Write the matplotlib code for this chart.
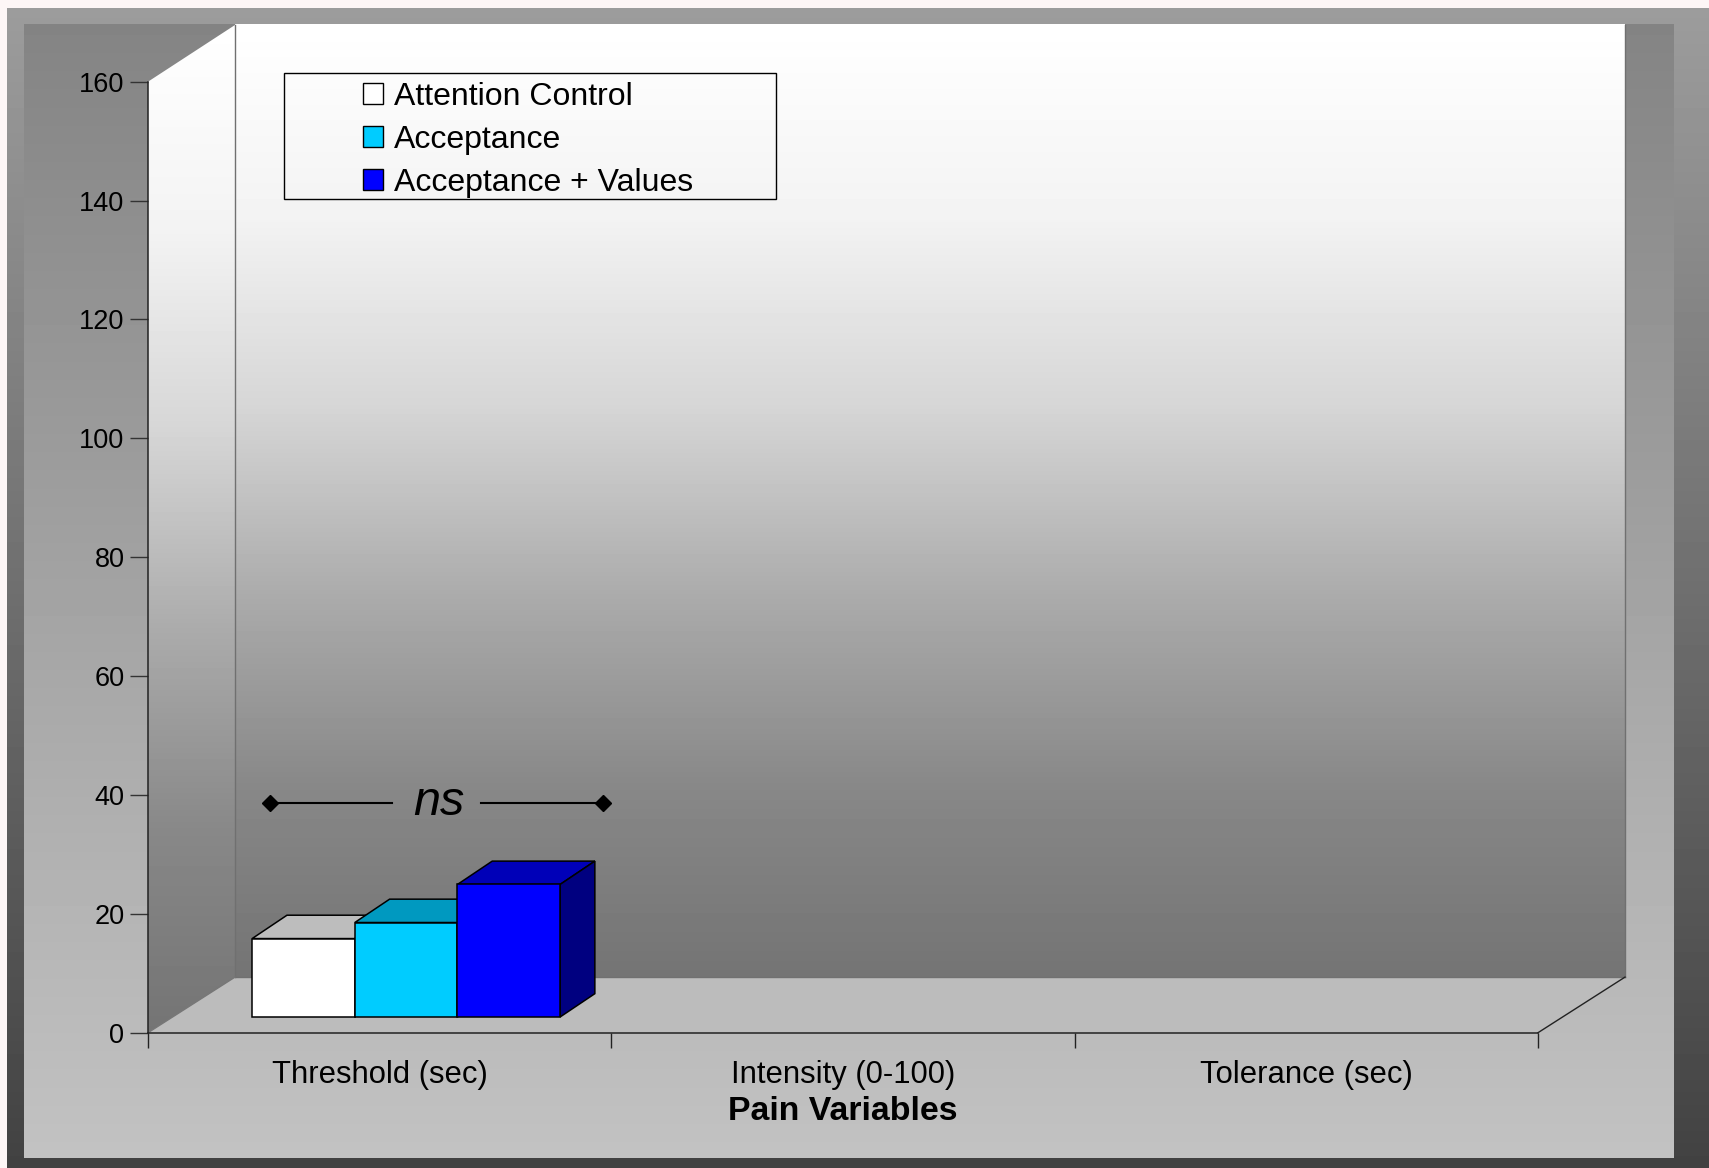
import numpy as np
import matplotlib
matplotlib.use("Agg")
import matplotlib.pyplot as plt
from matplotlib.patches import Patch, Polygon, Rectangle

plt.rcParams['font.family'] = ['Liberation Sans', 'DejaVu Sans']

# chart data, only the first category has bars in the picture
categories = ["Threshold (sec)", "Intensity (0-100)", "Tolerance (sec)"]
series_names = ["Attention Control", "Acceptance", "Acceptance + Values"]
attention_control = [13.2, np.nan, np.nan]
acceptance = [15.9, np.nan, np.nan]
acceptance_values = [22.3, np.nan, np.nan]
y_ticks = [0, 20, 40, 60, 80, 100, 120, 140, 160]

front_colors = ["#ffffff", "#00ccff", "#0000ff"]
top_colors = ["#bdbdbd", "#0099c0", "#0000b8"]
side_colors = ["#808080", "#006680", "#000080"]

W, H = 1709, 1168
# pixel positions of the plot box
LEFT, RIGHT, BOTTOM, TOP = 148, 1538, 1032.7, 81.7
SHIFT_X, SHIFT_Y = 87, 55.6

fig = plt.figure(figsize=(W / 100, H / 100), dpi=100, facecolor="#fdf6f6")


def gradient(ax, x0, x1, y0, y1, c0, c1, clip=None, z=1, curved=False):
    # vertical grey ramp from c0 at y0 to c1 at y1
    ramp = np.linspace(c0, c1, 256)
    if curved:
        # walls stay light near the top and fall faster in the middle
        ramp = np.interp(np.linspace(0, 1, 256), [0, 0.2, 0.4, 0.6, 0.8, 1],
                         [c0, 0xf3, 0xd6, 0xab, 0x88, c1])
    ramp = ramp.reshape(-1, 1)
    im = ax.imshow(ramp, extent=(x0, x1, y1, y0), cmap="gray", vmin=0, vmax=255,
                   aspect="auto", interpolation="bilinear", zorder=z)
    if clip is not None:
        im.set_clip_path(Polygon(clip, transform=ax.transData))
    return im


bg = fig.add_axes([0, 0, 1, 1])
gradient(bg, 7, W, 8, H, 0x9c, 0x42)
gradient(bg, 24, 1674, 24, 1158, 0x84, 0xc2)
# floor
bg.add_patch(Polygon([(LEFT, BOTTOM), (RIGHT, BOTTOM), (RIGHT + SHIFT_X, BOTTOM - SHIFT_Y),
                      (LEFT + SHIFT_X, BOTTOM - SHIFT_Y)], fc="#bcbcbc", ec="none", zorder=2))
# back wall and left wall
gradient(bg, LEFT + SHIFT_X, RIGHT + SHIFT_X, 25, BOTTOM - SHIFT_Y, 0xff, 0x74, z=3, curved=True)
gradient(bg, LEFT, LEFT + SHIFT_X, 25, BOTTOM, 0xff, 0x74, z=3, curved=True,
         clip=[(LEFT, TOP), (LEFT + SHIFT_X, 25), (LEFT + SHIFT_X, BOTTOM - SHIFT_Y), (LEFT, BOTTOM)])
bg.plot([LEFT + SHIFT_X] * 2, [25, BOTTOM - SHIFT_Y], color="#707070", lw=1, zorder=4)
bg.plot([RIGHT + SHIFT_X] * 2, [25, BOTTOM - SHIFT_Y], color="#707070", lw=1, zorder=4)
bg.plot([LEFT + SHIFT_X, RIGHT + SHIFT_X], [BOTTOM - SHIFT_Y] * 2, color="#707070", lw=1, zorder=4)
bg.plot([LEFT, LEFT + SHIFT_X], [BOTTOM, BOTTOM - SHIFT_Y], color="#777777", lw=1, zorder=4)
bg.plot([RIGHT, RIGHT + SHIFT_X], [BOTTOM, BOTTOM - SHIFT_Y], color="#222222", lw=1, zorder=4)
bg.set_xlim(0, W)
bg.set_ylim(H, 0)
bg.axis("off")

ax = fig.add_axes([LEFT / W, 1 - BOTTOM / H, (RIGHT - LEFT) / W, (BOTTOM - TOP) / H])
ax.patch.set_visible(False)
ax.set_xlim(0, len(categories))
ax.set_ylim(0, 160)
for name in ("top", "right"):
    ax.spines[name].set_visible(False)
for name in ("left", "bottom"):
    ax.spines[name].set_color("#222222")
    ax.spines[name].set_linewidth(1.1)

# depth of the 3d box in data units
depth_x = SHIFT_X / (RIGHT - LEFT) * len(categories)
depth_y = SHIFT_Y / (BOTTOM - TOP) * 160
bar_w = 0.2215
start = 0.304
bar_depth_x = 0.4
bar_depth_y = 0.42

x_pos = np.arange(len(categories)) + 0.5
all_series = [attention_control, acceptance, acceptance_values]
for i, values in enumerate(all_series):
    for cx, v in zip(x_pos, values):
        if np.isnan(v):
            continue
        x0 = cx + (i - 1.5) * bar_w + start * depth_x
        x1 = x0 + bar_w
        y0 = 0.282 * depth_y
        dx, dy = bar_depth_x * depth_x, bar_depth_y * depth_y
        ax.add_patch(Polygon([(x0, y0 + v), (x1, y0 + v), (x1 + dx, y0 + v + dy), (x0 + dx, y0 + v + dy)],
                             fc=top_colors[i], ec="black", lw=1.1, zorder=5 + i, clip_on=False))
        ax.add_patch(Polygon([(x1, y0), (x1 + dx, y0 + dy), (x1 + dx, y0 + v + dy), (x1, y0 + v)],
                             fc=side_colors[i], ec="black", lw=1.1, zorder=5 + i, clip_on=False))
        ax.bar(x0, v, bar_w, bottom=y0, align="edge", color=front_colors[i], edgecolor="black",
               linewidth=1.1, zorder=5 + i)

ax.set_xlim(0, len(categories))
ax.set_ylim(0, 160)

ax.set_yticks(y_ticks)
ax.tick_params(axis="y", length=13, width=1, color="#333333", labelsize=19.5, pad=4)
ax.set_xticks(range(len(categories) + 1))
ax.set_xticklabels([])
ax.tick_params(axis="x", length=11, width=1, color="#222222")
ax.set_xticks(x_pos, minor=True)
ax.set_xticklabels(categories, minor=True, fontsize=22.3)
ax.tick_params(axis="x", which="minor", length=0, pad=20)
ax.set_xlabel("Pain Variables", fontsize=24.4, fontweight="bold", labelpad=4)

# ns bracket
ax.plot([0.263, 0.527], [38.7, 38.7], color="black", lw=1.5, marker="D", ms=8, markevery=[0], zorder=6)
ax.plot([0.719, 0.982], [38.7, 38.7], color="black", lw=1.5, marker="D", ms=8, markevery=[1], zorder=6)
ax.text(0.627, 38.7, "ns", fontsize=35, style="italic", ha="center", va="center", zorder=6)

# legend
fig.add_artist(Rectangle((283.5 / W, 1 - 199.4 / H), 492 / W, 126.6 / H, transform=fig.transFigure,
                         fc="none", ec="black", lw=1))
handles = [Patch(fc=c, ec="black", lw=1) for c in front_colors]
ax.legend(handles, series_names, loc="upper left", bbox_to_anchor=(337 / W, 1 - 56.5 / H),
          bbox_transform=fig.transFigure, frameon=False, fontsize=23, handlelength=0.63,
          handleheight=0.63, handletextpad=0.36, labelspacing=0.40, borderpad=0.3)

fig.savefig("out.png", dpi=100, facecolor=fig.get_facecolor())
